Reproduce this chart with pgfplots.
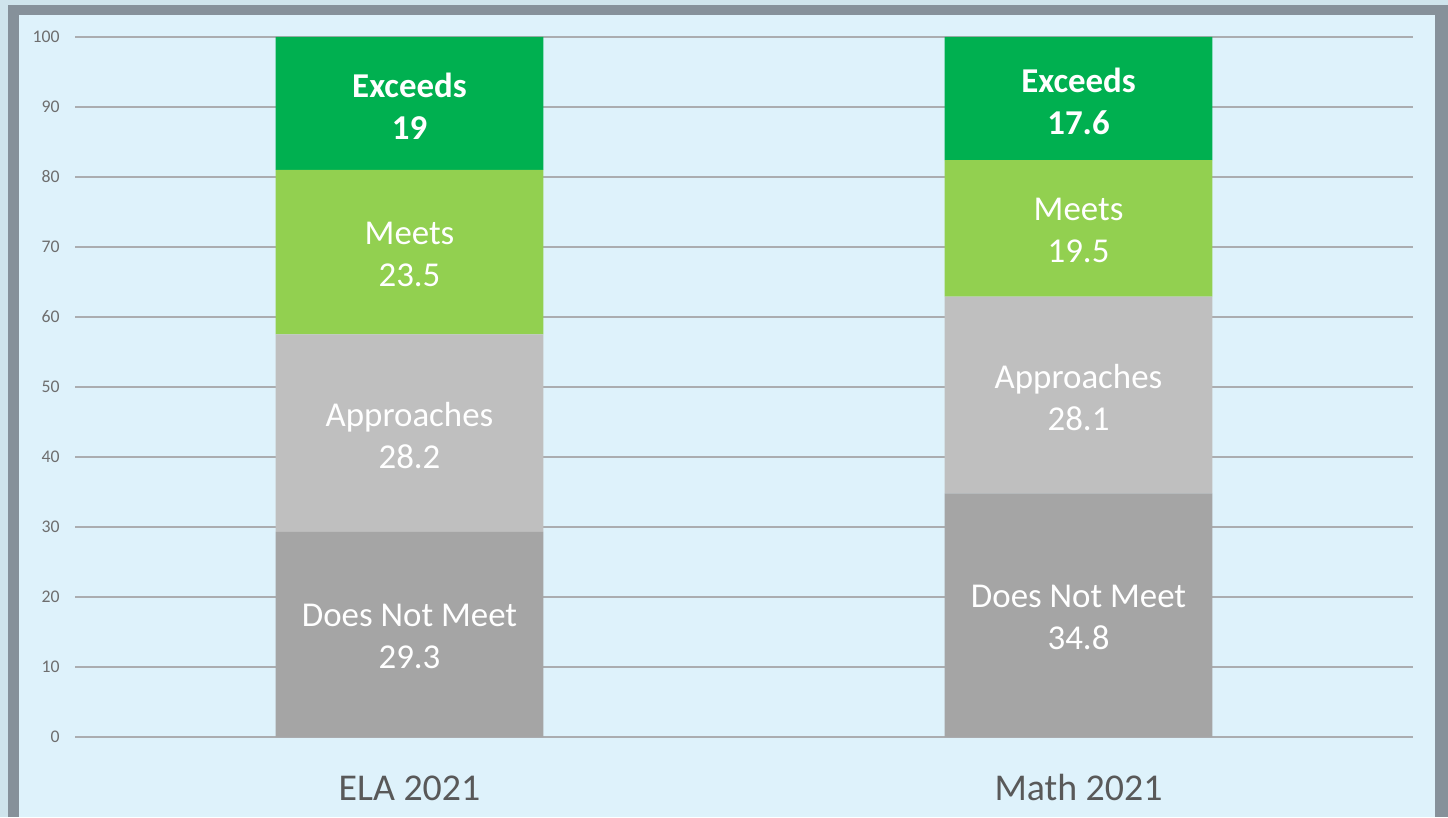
\documentclass[border=0pt]{standalone}
\usepackage{pgfplots}
\pgfplotsset{compat=1.18}
\usepackage{fontspec}
\setmainfont{Carlito}
\definecolor{outer}{HTML}{CFE4EC}
\definecolor{frame}{HTML}{86919A}
\definecolor{bg}{HTML}{DEF2FB}
\definecolor{gridc}{HTML}{ABADB0}
\definecolor{exc}{HTML}{00B050}
\definecolor{meets}{HTML}{92D050}
\definecolor{app}{HTML}{BFBFBF}
\definecolor{dnm}{HTML}{A5A5A5}
\definecolor{ylab}{HTML}{6E6E6E}
\definecolor{xlab}{HTML}{595959}
\begin{document}
\begin{tikzpicture}[x=1bp,y=1bp,
  lbl/.style={font=\fontsize{17.5}{21}\selectfont, text=white, align=center, yshift=-1.2bp},
  lblb/.style={font=\fontsize{17.5}{21}\selectfont\bfseries, text=white, align=center, yshift=-1.2bp}]
\fill[outer] (0,0) rectangle (724,408.5);
\useasboundingbox (0,0) rectangle (724,408.5);
\fill[frame] (4,0) rectangle (724,406);
\fill[bg] (9.5,0) rectangle (717.5,401);
\begin{axis}[
  at={(37.5bp,40bp)}, anchor=south west,
  scale only axis, width=669bp, height=350bp,
  xmin=-0.5, xmax=1.5, ymin=0, ymax=100,
  ybar stacked, bar width=0.4,
  axis line style={draw=none},
  major tick length=0pt,
  ytick={0,10,...,100},
  ymajorgrids, grid style={gridc, line width=0.7bp},
  xtick={0,1}, xticklabels={ELA 2021, Math 2021},
  xticklabel style={font=\fontsize{19}{22}\selectfont, text=xlab, anchor=base, yshift=-31.5bp},
  yticklabel style={font=\fontsize{8.9}{10}\selectfont, text=ylab, anchor=east, inner sep=0pt, xshift=-7.5bp},
  /pgf/number format/assume math mode=true,
  clip=false,
]
\addplot[fill=dnm, draw=none] coordinates {(0,29.3) (1,34.8)};
\addplot[fill=app, draw=none] coordinates {(0,28.2) (1,28.1)};
\addplot[fill=meets, draw=none] coordinates {(0,23.5) (1,19.5)};
\addplot[fill=exc, draw=none] coordinates {(0,19) (1,17.6)};
\coordinate (a1) at (axis cs:0,14.65);
\coordinate (a2) at (axis cs:0,43.4);
\coordinate (a3) at (axis cs:0,69.25);
\coordinate (a4) at (axis cs:0,90.5);
\coordinate (b1) at (axis cs:1,17.4);
\coordinate (b2) at (axis cs:1,48.85);
\coordinate (b3) at (axis cs:1,72.65);
\coordinate (b4) at (axis cs:1,91.2);
\end{axis}
\node[lbl] at (a1) {Does Not Meet\\29.3};
\node[lbl] at (a2) {Approaches\\28.2};
\node[lbl] at (a3) {Meets\\23.5};
\node[lblb] at (a4) {Exceeds\\19};
\node[lbl] at (b1) {Does Not Meet\\34.8};
\node[lbl] at (b2) {Approaches\\28.1};
\node[lbl] at (b3) {Meets\\19.5};
\node[lblb] at (b4) {Exceeds\\17.6};
\end{tikzpicture}
\end{document}
